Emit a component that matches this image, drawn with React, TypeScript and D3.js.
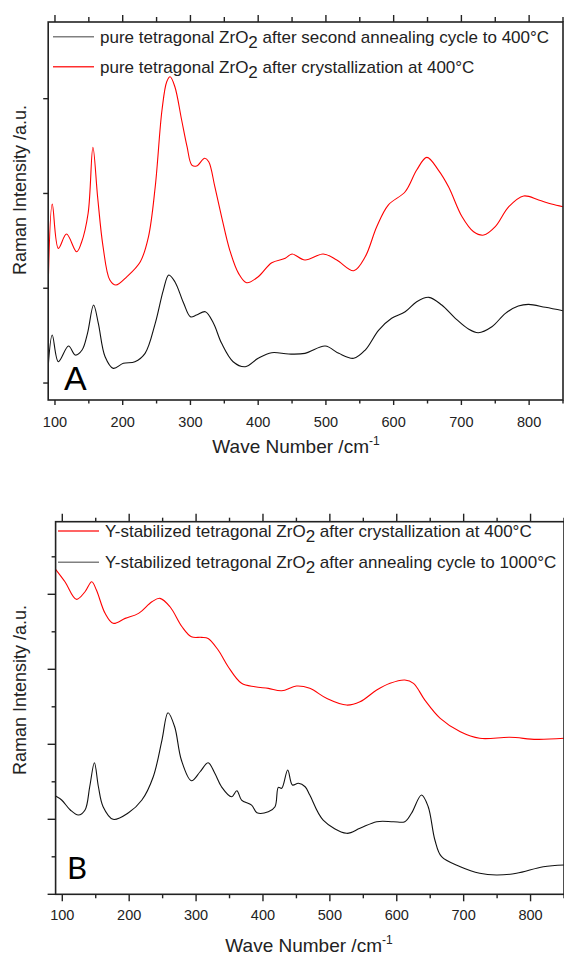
import React from 'react';
import * as d3 from 'd3';

// ---------- data ----------
const xTickValues = [100, 200, 300, 400, 500, 600, 700, 800];
const xMinorTickValues = [150, 250, 350, 450, 550, 650, 750, 850];

const topRedWave = [90,96,105,117,132,139,149,156,163,171,181,190,206,226,238,248,258,265,270,277,287,295,302,309,321,327,336,346,358,371,383,400,420,440,450,469,496,516,541,558,575,592,617,634,649,666,681,701,718,733,750,770,792,814,833,850];
const topRedInt = [1016,1888,1421,1572,1385,1480,1794,2487,1960,1438,1087,1034,1121,1280,1543,2071,2880,3179,3231,3126,2775,2493,2300,2289,2371,2335,2071,1754,1403,1157,1058,1121,1269,1316,1361,1298,1361,1298,1185,1332,1649,1878,2018,2247,2381,2247,2071,1754,1596,1561,1649,1860,1973,1931,1888,1860];

const topBlackWave = [90,96,105,120,130,140,148,157,164,174,186,201,218,233,248,260,268,277,290,300,309,322,334,346,363,381,400,420,445,469,499,519,541,558,578,597,617,634,652,671,691,711,725,745,765,784,799,824,850];
const topBlackInt = [172,506,225,390,295,348,524,823,630,277,155,208,225,313,630,981,1139,1069,841,699,717,752,630,419,225,172,261,320,306,313,390,313,261,348,559,683,752,858,904,823,683,567,531,594,735,812,830,799,763];

const botRedWave = [90,104,121,134,144,151,164,176,194,214,234,246,261,279,293,308,318,333,348,368,388,408,428,450,470,495,525,545,570,590,612,625,642,665,695,724,769,809,850];
const botRedInt = [4333,4167,3933,4034,4167,4057,3746,3613,3679,3746,3900,3946,3834,3567,3434,3426,3412,3257,3034,2813,2767,2746,2714,2777,2746,2613,2523,2567,2723,2813,2857,2813,2590,2346,2167,2080,2093,2066,2080];

const botBlackWave = [90,99,112,124,134,141,148,154,161,176,199,219,236,249,258,268,278,293,306,318,328,338,353,361,368,383,391,408,418,423,428,437,444,453,463,470,490,525,545,570,595,612,622,637,647,657,667,695,724,749,779,819,850];
const botBlackInt = [1310,1257,1124,1057,1124,1434,1754,1434,1168,1000,1088,1257,1568,2057,2421,2234,1790,1514,1634,1754,1613,1434,1301,1381,1257,1190,1088,1101,1168,1426,1413,1657,1457,1480,1434,1324,990,813,880,968,968,968,1080,1324,1168,724,501,368,280,257,280,368,391];

const topYTicks = [0, 1000, 2000, 3000];
const botYMajorTicks = [0, 1000, 2000, 3000, 4000];
const botYMinorTicks = [500, 1500, 2500, 3500, 4500];

const topLegend = [
  { pre: 'pure tetragonal ZrO', post: ' after second annealing cycle to 400°C', color: '#808080' },
  { pre: 'pure tetragonal ZrO', post: ' after crystallization at 400°C', color: '#ff3030' },
];
const botLegend = [
  { pre: 'Y-stabilized tetragonal ZrO', post: ' after crystallization at 400°C', color: '#ff3030' },
  { pre: 'Y-stabilized tetragonal ZrO', post: ' after annealing cycle to 1000°C', color: '#808080' },
];

const FONT = '"Liberation Sans", Arial, sans-serif';
const AX = '#222';

type Series = { wave: number[]; vals: number[]; color: string };

function Panel(props: {
  id: string;
  left: number; right: number; top: number; bottom: number;
  yDomain: [number, number];
  series: Series[];
  yMajor: number[]; yMinor: number[];
  yMajorLen: number; yMinorLen: number;
  topMajorLen: number; topMinorLen: number;
  botMajorLen: number; botMinorLen: number;
  legend: { pre: string; post: string; color: string }[];
  legLineX: [number, number]; legTextX: number; legBase: number[];
  letter: string; letterX: number; letterY: number; letterFont: string; letterSize: number;
  labelY: number; titleX: number; titleY: number; yTitleX: number; yTitleY: number;
}) {
  const p = props;
  const x = d3.scaleLinear().domain([90, 850]).range([p.left, p.right]);
  const y = d3.scaleLinear().domain(p.yDomain).range([p.bottom, p.top]);
  const line = d3.line<[number, number]>()
    .x((d) => x(d[0]))
    .y((d) => y(d[1]))
    .curve(d3.curveCatmullRom.alpha(0.5));
  const clipId = 'clip-' + p.id;
  return (
    <g>
      <defs>
        <clipPath id={clipId}>
          <rect x={p.left} y={p.top} width={p.right - p.left} height={p.bottom - p.top} />
        </clipPath>
      </defs>
      <g clipPath={`url(#${clipId})`}>
        {p.series.map((s, i) => (
          <path key={i} d={line(s.wave.map((w, j) => [w, s.vals[j]] as [number, number])) || ''}
            fill="none" stroke={s.color} strokeWidth={1.1} />
        ))}
      </g>
      <rect x={p.left} y={p.top} width={p.right - p.left} height={p.bottom - p.top}
        fill="none" stroke={AX} strokeWidth={1.6} />
      {xTickValues.map((v) => (
        <g key={'M' + v}>
          <line x1={x(v)} x2={x(v)} y1={p.bottom} y2={p.bottom + p.botMajorLen} stroke={AX} strokeWidth={1.4} />
          <line x1={x(v)} x2={x(v)} y1={p.top} y2={p.top - p.topMajorLen} stroke={AX} strokeWidth={1.4} />
          <text x={x(v)} y={p.labelY} textAnchor="middle" fontFamily={FONT} fontSize={14.5} fill={AX}>{v}</text>
        </g>
      ))}
      {xMinorTickValues.filter((v) => x(v) <= p.right).map((v) => (
        <g key={'m' + v}>
          <line x1={x(v)} x2={x(v)} y1={p.bottom} y2={p.bottom + p.botMinorLen} stroke={AX} strokeWidth={1.4} />
          <line x1={x(v)} x2={x(v)} y1={p.top} y2={p.top - p.topMinorLen} stroke={AX} strokeWidth={1.4} />
        </g>
      ))}
      {p.yMajor.map((v) => (
        <line key={'yM' + v} x1={p.left} x2={p.left - p.yMajorLen} y1={y(v)} y2={y(v)} stroke={AX} strokeWidth={1.4} />
      ))}
      {p.yMinor.map((v) => (
        <line key={'ym' + v} x1={p.left} x2={p.left - p.yMinorLen} y1={y(v)} y2={y(v)} stroke={AX} strokeWidth={1.4} />
      ))}
      {p.legend.map((l, i) => (
        <g key={'leg' + i}>
          <line x1={p.legLineX[0]} x2={p.legLineX[1]} y1={p.legBase[i] - 6} y2={p.legBase[i] - 6}
            stroke={l.color} strokeWidth={1.5} />
          <text x={p.legTextX} y={p.legBase[i]} fontFamily={FONT} fontSize={17} fill={AX}>
            {l.pre}
            <tspan dy={5} fontSize={17}>2</tspan>
            <tspan dy={-5}>{l.post}</tspan>
          </text>
        </g>
      ))}
      <text x={p.letterX} y={p.letterY} fontFamily={p.letterFont} fontSize={p.letterSize} fill="#000">{p.letter}</text>
      <text x={p.titleX} y={p.titleY} textAnchor="middle" fontFamily={FONT} fontSize={19} fill={AX}>
        Wave Number /cm<tspan dy={-8} fontSize={12}>-1</tspan>
      </text>
      <text transform={`translate(${p.yTitleX},${p.yTitleY}) rotate(-90)`} textAnchor="middle"
        fontFamily={FONT} fontSize={18} fill={AX}>Raman Intensity /a.u.</text>
    </g>
  );
}

export default function App() {
  return (
    <svg width={564} height={957} style={{ position: 'absolute', left: 0, top: 0, background: '#fff' }}>
      <rect x={0} y={0} width={564} height={957} fill="#fff" />
      <Panel
        id="A"
        left={48.2} right={563} top={22} bottom={400}
        yDomain={[-179, 3809]}
        series={[
          { wave: topBlackWave, vals: topBlackInt, color: '#111' },
          { wave: topRedWave, vals: topRedInt, color: '#ff0000' },
        ]}
        yMajor={topYTicks} yMinor={[]}
        yMajorLen={5} yMinorLen={3}
        topMajorLen={7} topMinorLen={5}
        botMajorLen={5} botMinorLen={3.5}
        legend={topLegend}
        legLineX={[53, 94]} legTextX={100} legBase={[42.7, 72.7]}
        letter="A" letterX={64} letterY={390} letterFont={FONT} letterSize={34}
        labelY={427} titleX={296} titleY={453} yTitleX={26} yTitleY={190}
      />
      <Panel
        id="B"
        left={55.6} right={564} top={521.7} bottom={894.3}
        yDomain={[0, 4968]}
        series={[
          { wave: botRedWave, vals: botRedInt, color: '#ff0000' },
          { wave: botBlackWave, vals: botBlackInt, color: '#111' },
        ]}
        yMajor={botYMajorTicks} yMinor={botYMinorTicks}
        yMajorLen={8} yMinorLen={4}
        topMajorLen={8} topMinorLen={4}
        botMajorLen={7} botMinorLen={4}
        legend={botLegend}
        legLineX={[58, 99]} legTextX={105} legBase={[537, 568.3]}
        letter="B" letterX={67} letterY={878.5} letterFont={'Lato, "Open Sans", sans-serif'} letterSize={31}
        labelY={920} titleX={309} titleY={952} yTitleX={26} yTitleY={690}
      />
    </svg>
  );
}
